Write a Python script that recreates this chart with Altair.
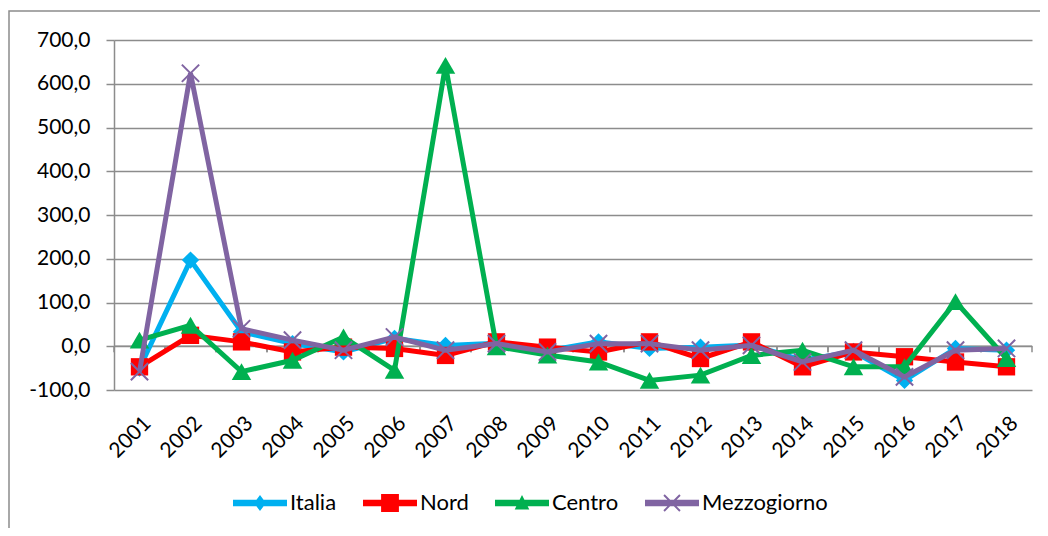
import altair as alt
import pandas as pd

years = ["2001", "2002", "2003", "2004", "2005", "2006", "2007", "2008", "2009",
         "2010", "2011", "2012", "2013", "2014", "2015", "2016", "2017", "2018"]
italia = [-50, 197, 33, 6, -13, 18, 2, 7, -10, 10, -5, -2, 3, -32, -12, -78, -5, -9]
nord = [-47, 25, 10, -13, -2, -5, -21, 10, -2, -13, 10, -28, 10, -47, -13, -24, -36, -47]
centro = [14, 48, -58, -32, 21, -55, 642, -1, -20, -36, -78, -66, -21, -9, -47, -47, 102, -28]
mezzogiorno = [-58, 624, 40, 14, -9, 21, -9, 6, -13, 6, 6, -9, 2, -36, -9, -70, -9, -5]
series_names = ["Italia", "Nord", "Centro", "Mezzogiorno"]
colors = ["#00B0F0", "#FF0000", "#00B050", "#8064A2"]
y_ticks = [-100, 0, 100, 200, 300, 400, 500, 600, 700]

rows = []
for name, vals in zip(series_names, [italia, nord, centro, mezzogiorno]):
    for yr, v in zip(years, vals):
        rows.append({"year": yr, "value": v, "series": name})
df = pd.DataFrame(rows)
one = pd.DataFrame({"a": [0]})
yr_df = pd.DataFrame({"year": years})

W, H = 918, 350
FONT = "Lato"
GRID = "#8C8C8C"
FS = 21

x_enc = alt.X("year:O", sort=years, scale=alt.Scale(type="point", padding=0.5),
              axis=alt.Axis(title=None, labelAngle=315, labelAlign="right", labelBaseline="top",
                            labelPadding=22, ticks=False, domain=False, grid=False,
                            labelFont=FONT, labelFontSize=FS, labelColor="black"))
y_enc = alt.Y("value:Q", scale=alt.Scale(domain=[-100, 700], nice=False, zero=False),
              axis=alt.Axis(title=None, values=y_ticks,
                            labelExpr="(datum.value < 0 ? '-' : '') + replace(format(abs(datum.value), '.1f'), '.', ',')",
                            grid=True, gridColor=GRID, gridWidth=1.5, domain=True, domainColor=GRID,
                            domainWidth=1.5, tickColor=GRID, tickWidth=1.5, tickSize=8, labelPadding=16,
                            labelFont=FONT, labelFontSize=FS, labelColor="black"))

border = alt.Chart(one).mark_rect(fillOpacity=0, stroke=GRID, strokeWidth=1.5).encode(
    x=alt.value(-105), x2=alt.value(W + 40), y=alt.value(-29), y2=alt.value(H + 250))

zero_line = alt.Chart(one).mark_rule(color=GRID, strokeWidth=1.5).encode(
    x=alt.value(0), x2=alt.value(W), y=alt.datum(0))

step = W / 18.0
ticks_l = alt.Chart(yr_df).mark_rule(color=GRID, strokeWidth=1.5, xOffset=-step / 2, y2Offset=6).encode(
    x=x_enc, y=alt.datum(0), y2=alt.datum(0))
ticks_r = alt.Chart(yr_df).mark_rule(color=GRID, strokeWidth=1.5, xOffset=step / 2, y2Offset=6).encode(
    x=x_enc, y=alt.datum(0), y2=alt.datum(0))

layers = [border, zero_line, ticks_l, ticks_r]
base = alt.Chart(df)
for name, col in zip(series_names, colors):
    d = base.transform_filter(alt.datum.series == name)
    layers.append(d.mark_line(color=col, strokeWidth=5).encode(x=x_enc, y=y_enc))
    if name == "Italia":
        pts = d.mark_point(shape="diamond", filled=True, color=col, size=300, opacity=1)
    elif name == "Nord":
        pts = d.mark_point(shape="square", filled=True, color=col, size=300, opacity=1)
    elif name == "Centro":
        pts = d.mark_point(shape="triangle-up", filled=True, color=col, size=380, opacity=1)
    else:
        pts = d.mark_point(shape="M-1,-1L1,1M-1,1L1,-1", filled=False, color=col, size=300,
                           strokeWidth=2, opacity=1)
    layers.append(pts.encode(x=x_enc, y=y_enc))

bar = "M-1,-0.12L1,-0.12L1,0.12L-1,0.12Z"
legend_paths = [
    bar + "M0,-0.3L0.22,0L0,0.3L-0.22,0Z",
    bar + "M-0.33,-0.33L0.33,-0.33L0.33,0.33L-0.33,0.33Z",
    bar + "M0,-0.3L0.27,0.24L-0.27,0.24Z",
    bar + "M-0.27,-0.32L0.32,0.27L0.27,0.32L-0.32,-0.27Z"
          "M-0.32,0.27L0.27,-0.32L0.32,-0.27L-0.27,0.32Z",
]
SYM = 2916
leg = dict(title=None, orient="none", legendX=119, legendY=436, direction="horizontal",
           symbolSize=SYM, symbolStrokeWidth=0, labelFont=FONT, labelFontSize=22,
           labelColor="black", labelOffset=3, columnPadding=26)
legend_layer = base.transform_filter("false").mark_point(filled=True, size=SYM, opacity=1).encode(
    x=x_enc, y=y_enc,
    color=alt.Color("series:N", scale=alt.Scale(domain=series_names, range=colors),
                    legend=alt.Legend(**leg)),
    shape=alt.Shape("series:N", scale=alt.Scale(domain=series_names, range=legend_paths),
                    legend=alt.Legend(**leg)))
layers.append(legend_layer)

chart = alt.layer(*layers).properties(
    width=W, height=H,
    autosize=alt.AutoSizeParams(type="none"),
    padding={"left": 106, "top": 32, "right": 8, "bottom": 138},
    background="white",
).configure_view(strokeWidth=0)

chart.save("out.html", embed_options={"renderer": "svg", "actions": False})
